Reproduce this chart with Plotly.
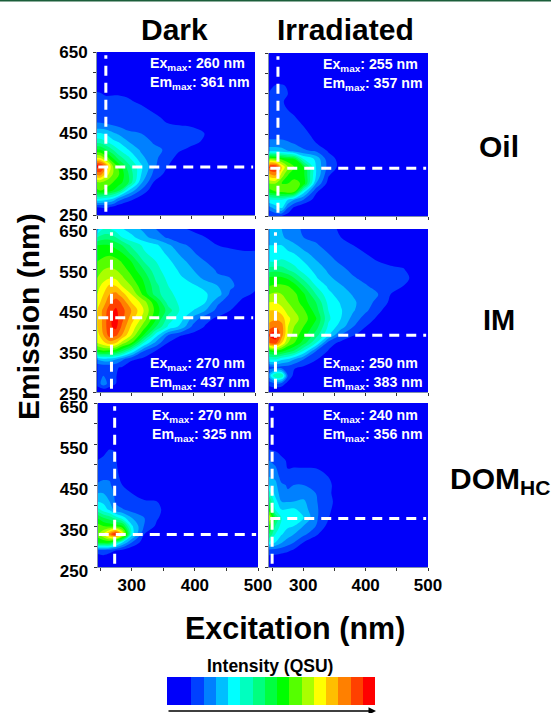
import plotly.graph_objects as go

W, H = 551, 713

EX = [245, 255, 265, 275, 285, 300, 320, 340, 360, 380, 400, 420, 440, 460, 480, 500]
EM = [650, 630, 610, 590, 570, 550, 530, 510, 490, 470, 450, 430, 410, 390, 370, 350, 330, 310, 290, 270, 250]

oil_dark = [
 [0,0,0,0,0,0,0,0,0,0,0,0,0,0,0,0],
 [0,0,0,0,0,0,0,0,0,0,0,0,0,0,0,0],
 [0,0,0,0,0,0,0,0,0,0,0,0,0,0,0,0],
 [0,0,0,0,0,0,0,0,0,0,0,0,0,0,0,0],
 [0.6,0.6,0.5,0.4,0.3,0.2,0,0,0,0,0,0,0,0,0,0],
 [1.05,1.0,0.9,0.95,0.95,0.9,0.6,0,0,0,0,0,0,0,0,0],
 [1.15,1.15,1.15,1.1,1.1,1.05,0.9,0.3,0,0,0,0,0,0,0,0],
 [1.3,1.3,1.3,1.3,1.3,1.2,1.1,0.9,0.2,0,0,0,0,0,0,0],
 [1.6,1.6,1.6,1.5,1.5,1.4,1.2,1.1,0.9,0.5,0.2,0,0,0,0,0],
 [2.2,2.2,2.1,2.0,1.8,1.6,1.4,1.2,1.05,1.0,0.95,0.4,0,0,0,0],
 [4.1,4.1,3.8,3.2,2.8,2.2,2.0,1.6,1.4,1.3,1.2,1.0,0.1,0,0,0],
 [5.5,5.5,5.0,4.3,3.9,3.0,2.4,1.9,1.6,1.4,1.2,0.9,0,0,0,0],
 [8.0,8.0,7.0,6.0,5.0,4.0,2.8,2.2,1.9,1.1,0.8,0.3,0,0,0,0],
 [11.0,11.0,9.5,8.0,6.5,5.2,3.3,2.3,1.4,0.7,0,0,0,0,0,0],
 [15.2,15.5,13.0,10.0,8.5,6.3,4.2,2.2,1.1,0.3,0,0,0,0,0,0],
 [13.0,13.5,11.5,10.0,9.0,7.0,4.0,1.7,0.7,0,0,0,0,0,0,0],
 [9.5,10.0,9.5,9.0,8.5,7.0,3.2,0.9,0,0,0,0,0,0,0,0],
 [8.5,9.0,8.7,8.0,7.0,4.0,1.8,0.3,0,0,0,0,0,0,0,0],
 [5.0,5.0,4.5,4.0,2.5,1.5,0.5,0,0,0,0,0,0,0,0,0],
 [1.0,1.1,1.2,0.9,0.4,0,0,0,0,0,0,0,0,0,0,0],
 [0,0,0,0,0,0,0,0,0,0,0,0,0,0,0,0],
]
oil_irr = [
 [0,0,0,0,0,0,0,0,0,0,0,0,0,0,0,0],
 [0,0,0,0,0,0,0,0,0,0,0,0,0,0,0,0],
 [0,0,0,0,0,0,0,0,0,0,0,0,0,0,0,0],
 [0.2,0.4,0.4,0.2,0,0,0,0,0,0,0,0,0,0,0,0],
 [0.7,1.05,1.1,0.9,0,0,0,0,0,0,0,0,0,0,0,0],
 [1.1,1.2,1.2,1.0,0.4,0,0,0,0,0,0,0,0,0,0,0],
 [1.05,1.1,1.05,0.9,0.4,0,0,0,0,0,0,0,0,0,0,0],
 [1.05,1.1,1.1,1.0,0.8,0.3,0,0,0,0,0,0,0,0,0,0],
 [1.2,1.2,1.2,1.2,1.1,0.7,0,0,0,0,0,0,0,0,0,0],
 [1.3,1.3,1.3,1.3,1.2,1.0,0.3,0,0,0,0,0,0,0,0,0],
 [1.6,1.6,1.5,1.5,1.4,1.2,0.8,0,0,0,0,0,0,0,0,0],
 [2.3,2.3,2.3,2.1,1.9,1.4,1.0,0.3,0,0,0,0,0,0,0,0],
 [3.6,3.6,3.4,3.0,2.6,2.2,1.8,0.9,0.2,0,0,0,0,0,0,0],
 [10.0,9.5,8.8,8.3,8.0,5.0,3.8,1.4,0.7,0,0,0,0,0,0,0],
 [15.2,15.4,12.0,10.0,9.0,8.0,4.0,1.6,0.7,0,0,0,0,0,0,0],
 [12.5,13.0,10.5,9.0,8.5,8.3,4.0,1.1,0.2,0,0,0,0,0,0,0],
 [10.0,10.0,9.0,9.0,9.5,8.7,3.0,0.6,0,0,0,0,0,0,0,0],
 [8.5,9.0,9.3,9.8,9.3,4.5,1.2,0,0,0,0,0,0,0,0,0],
 [5.0,5.0,5.0,4.0,3.0,2.0,0.5,0,0,0,0,0,0,0,0,0],
 [2.5,3.5,4.2,2.0,0.8,0,0,0,0,0,0,0,0,0,0,0],
 [1.0,1.1,1.0,0.5,0,0,0,0,0,0,0,0,0,0,0,0],
]
im_dark = [
 [3.5,5.0,5.0,4.5,4.1,3.5,2.8,2.0,1.5,1.1,0.9,0.7,0.6,0.5,0.5,0.5],
 [6.0,6.5,6.5,6.0,5.0,4.3,3.3,2.5,1.8,1.4,1.2,1.0,0.8,0.7,0.7,0.7],
 [8.0,8.1,8.0,7.7,7.0,5.8,4.8,4.2,3.2,2.2,1.8,1.2,1.0,0.9,0.9,0.9],
 [8.5,8.7,8.8,8.4,8.1,6.8,5.2,4.5,3.8,2.8,2.1,1.6,1.3,1.15,1.05,1.05],
 [9.0,9.3,9.5,9.5,8.9,8.0,6.0,5.0,4.2,3.4,2.5,2.0,1.6,1.4,1.2,1.1],
 [9.5,10.0,10.2,10.0,9.5,8.6,7.0,5.3,4.5,3.8,3.0,2.3,1.9,1.7,1.4,1.2],
 [10.0,10.5,10.9,10.8,10.2,9.2,7.8,5.8,4.7,4.1,3.7,2.6,2.1,2.0,1.5,1.3],
 [10.5,11.5,12.2,12.0,11.0,10.0,8.2,6.3,5.0,4.5,4.1,3.8,3.0,2.2,1.6,1.15],
 [11.0,12.0,13.0,13.3,12.5,11.0,8.7,6.5,5.2,4.7,4.4,4.1,3.5,1.8,1.2,0.9],
 [11.5,12.5,13.8,14.6,13.8,12.0,10.5,8.2,5.5,4.8,4.3,4.0,2.2,1.4,0.8,0.4],
 [12.0,13.3,14.6,15.2,14.4,13.0,11.0,8.6,6.5,4.8,4.0,3.0,1.6,1.0,0.4,0],
 [12.0,13.3,14.8,15.4,14.3,12.5,10.5,8.1,5.5,4.4,2.6,1.3,0.8,0,0,0],
 [12.0,13.3,14.8,15.3,13.8,11.8,9.5,7.0,4.8,3.7,1.7,0.9,0.1,0,0,0],
 [11.5,13.0,14.5,14.3,13.0,11.0,8.0,4.5,2.0,1.1,0.7,0,0,0,0,0],
 [11.0,11.7,12.5,12.0,10.5,9.0,5.0,2.6,0.9,0.2,0,0,0,0,0,0],
 [8.5,8.8,8.5,8.2,7.0,4.8,2.0,0.9,0,0,0,0,0,0,0,0],
 [3.0,3.5,3.5,3.0,2.2,1.2,0.7,0,0,0,0,0,0,0,0,0],
 [1.1,1.2,1.2,1.1,0.9,0.2,0,0,0,0,0,0,0,0,0,0],
 [1.3,2.0,1.6,1.1,0.3,0,0,0,0,0,0,0,0,0,0,0],
 [1.4,2.5,1.6,1.0,0.3,0,0,0,0,0,0,0,0,0,0,0],
 [0,0,0,0,0,0,0,0,0,0,0,0,0,0,0,0],
]
im_irr = [
 [3.3,3.2,3.0,2.5,2.2,1.9,1.6,1.2,0.9,0.7,0.5,0,0,0,0,0],
 [3.6,3.5,3.2,2.7,2.4,2.0,1.8,1.4,1.0,0.8,0.6,0.3,0,0,0,0],
 [4.0,4.0,4.0,3.6,3.2,2.6,2.1,1.7,1.2,1.0,0.9,0.6,0.2,0,0,0],
 [4.5,4.5,4.5,4.2,4.0,3.3,2.6,2.0,1.6,1.2,1.0,0.8,0.3,0,0,0],
 [5.0,5.0,5.2,5.0,4.6,4.0,3.1,2.4,1.8,1.4,1.1,1.0,0.9,0.8,0.2,0],
 [6.5,6.7,6.5,6.0,5.5,4.5,3.7,2.8,2.3,1.7,1.4,1.2,1.1,1.05,0.7,0],
 [8.2,8.2,8.2,7.8,7.0,5.7,4.1,3.2,2.6,2.1,1.7,1.4,1.2,1.1,0.9,0],
 [9.0,9.2,9.2,9.0,8.5,7.0,5.0,3.8,3.1,2.5,2.1,1.6,1.2,1.0,0.3,0],
 [10.0,10.2,10.0,9.7,9.3,8.2,6.0,4.3,3.5,2.9,2.4,2.0,1.0,0.6,0,0],
 [11.0,11.0,10.5,10.0,9.6,8.5,7.0,4.7,3.9,3.2,2.4,1.7,0.8,0,0,0],
 [12.0,12.0,11.5,10.5,10.0,9.2,7.5,5.0,4.1,3.1,2.2,1.2,0.5,0,0,0],
 [12.5,12.8,12.5,11.3,10.5,9.5,8.1,5.2,4.0,2.6,1.5,0.8,0,0,0,0],
 [13.5,14.0,13.5,11.0,10.0,9.0,7.5,4.8,3.5,2.0,1.0,0.3,0,0,0,0],
 [15.2,15.6,13.5,10.8,9.5,8.5,6.5,4.1,2.0,1.1,0.5,0,0,0,0,0],
 [14.0,14.5,12.0,10.0,9.0,7.5,5.0,1.5,0.7,0.2,0,0,0,0,0,0],
 [8.0,8.5,8.2,7.5,6.8,4.8,2.0,0.9,0,0,0,0,0,0,0,0],
 [5.0,5.0,4.2,3.8,3.0,2.0,1.1,0.2,0,0,0,0,0,0,0,0],
 [1.6,1.8,1.6,1.5,1.1,0.8,0.1,0,0,0,0,0,0,0,0,0],
 [3.5,6.0,6.0,1.8,0.7,0,0,0,0,0,0,0,0,0,0,0],
 [1.4,1.8,1.5,0.6,0,0,0,0,0,0,0,0,0,0,0,0],
 [0,0,0,0,0,0,0,0,0,0,0,0,0,0,0,0],
]
dom_dark = [
 [0,0,0,0,0,0,0,0,0,0,0,0,0,0,0,0],
 [0,0,0,0,0,0,0,0,0,0,0,0,0,0,0,0],
 [0,0,0,0,0,0,0,0,0,0,0,0,0,0,0,0],
 [0,0,0,0,0,0,0,0,0,0,0,0,0,0,0,0],
 [0,0,0,0.1,0,0,0,0,0,0,0,0,0,0,0,0],
 [0.3,0.5,0.8,0.7,0,0,0,0,0,0,0,0,0,0,0,0],
 [0.7,0.9,1.1,1.0,0,0,0,0,0,0,0,0,0,0,0,0],
 [1.0,1.1,1.2,1.1,0.1,0,0,0,0,0,0,0,0,0,0,0],
 [1.1,1.3,1.4,1.2,0.4,0,0,0,0,0,0,0,0,0,0,0],
 [1.3,1.8,1.8,1.1,0.9,0.2,0,0,0,0,0,0,0,0,0,0],
 [2.2,2.3,2.2,1.3,1.0,0.6,0.1,0,0,0,0,0,0,0,0,0],
 [3.0,3.0,2.8,1.6,1.2,1.0,0.5,0,0,0,0,0,0,0,0,0],
 [4.0,3.8,3.0,1.8,1.5,1.2,1.1,1.0,0.3,0,0,0,0,0,0,0],
 [5.5,4.5,3.8,2.4,2.1,1.6,1.3,1.2,0.6,0,0,0,0,0,0,0],
 [8.0,7.0,6.5,5.5,4.5,3.0,2.0,1.1,0.4,0,0,0,0,0,0,0],
 [9.5,9.0,8.7,8.6,8.2,4.2,1.9,0.8,0,0,0,0,0,0,0,0],
 [9.5,11.0,13.5,15.5,12.0,4.5,1.0,0.1,0,0,0,0,0,0,0,0],
 [8.0,8.2,8.0,6.0,4.1,2.0,0.4,0,0,0,0,0,0,0,0,0],
 [1.3,1.5,1.4,1.0,0.6,0.1,0,0,0,0,0,0,0,0,0,0],
 [0.5,0.6,0.2,0,0,0,0,0,0,0,0,0,0,0,0,0],
 [0,0,0,0,0,0,0,0,0,0,0,0,0,0,0,0],
]
dom_irr = [
 [0,0,0,0,0,0,0,0,0,0,0,0,0,0,0,0],
 [0,0,0,0,0,0,0,0,0,0,0,0,0,0,0,0],
 [0,0,0,0,0,0,0,0,0,0,0,0,0,0,0,0],
 [0,0,0,0,0,0,0,0,0,0,0,0,0,0,0,0],
 [0.3,0.1,0,0,0,0,0,0,0,0,0,0,0,0,0,0],
 [0.8,0.3,0,0,0,0,0,0,0,0,0,0,0,0,0,0],
 [1.1,1.1,0.8,0.2,0,0,0,0,0,0,0,0,0,0,0,0],
 [2.0,1.6,1.2,0.9,0.4,0,0,0,0,0,0,0,0,0,0,0],
 [2.4,2.2,1.3,1.0,1.1,1.1,1.05,0.6,0,0,0,0,0,0,0,0],
 [3.0,2.8,1.5,1.3,1.2,1.2,1.15,1.0,0.3,0,0,0,0,0,0,0],
 [4.0,3.3,2.2,1.9,2.0,2.0,1.5,1.2,0.5,0,0,0,0,0,0,0],
 [5.5,3.6,2.5,2.1,2.2,2.4,2.0,1.2,0.4,0,0,0,0,0,0,0],
 [7.0,4.5,3.0,2.9,3.0,3.2,2.1,1.3,0.5,0,0,0,0,0,0,0],
 [8.5,5.0,4.0,4.1,4.2,3.5,2.2,1.2,0.4,0,0,0,0,0,0,0],
 [11.0,7.0,5.0,4.4,4.4,4.1,2.2,1.05,0.3,0,0,0,0,0,0,0],
 [9.0,6.0,4.6,4.2,4.0,3.0,2.0,0.7,0,0,0,0,0,0,0,0],
 [7.0,5.0,4.1,3.5,3.0,2.3,1.2,0.2,0,0,0,0,0,0,0,0],
 [5.0,4.0,3.1,2.5,2.0,1.0,0.3,0,0,0,0,0,0,0,0,0],
 [1.5,1.5,1.4,1.2,0.8,0.1,0,0,0,0,0,0,0,0,0,0],
 [0.6,0.5,0.3,0,0,0,0,0,0,0,0,0,0,0,0,0],
 [0,0,0,0,0,0,0,0,0,0,0,0,0,0,0,0],
]

LEVEL_COLORS = ["#0000FA", "#0040FF", "#0080FF", "#00BFFF", "#00FFFF", "#00FFBF", "#00FF80", "#00FF40",
                "#00FF00", "#55FF00", "#AAFF00", "#FFFF00", "#FFBF00", "#FF8000", "#FF4000", "#FF0000"]
BAR_LEVELS = [0, 0, 1, 2, 3, 4, 5, 6, 7, 8, 9, 10, 11, 12, 13, 14, 15]

ex_peak_text = [260, 255, 270, 250, 270, 240]
em_peak_text = [361, 357, 437, 383, 325, 356]
ex_line = [264, 259, 268, 255, 273, 250]
em_line = [368, 367, 432, 389, 329, 368]
Y_TICKS = [250, 300, 350, 400, 450, 500, 550, 600, 650]
Y_LABELS = ["250", "", "350", "", "450", "", "550", "", "650"]
X_TICKS = [250, 300, 350, 400, 450, 500]
X_LABELS = ["", "300", "", "400", "", "500"]

panels = [
    (oil_dark, (97, 255, 52, 215), 250, (148, 64, 83), 0),
    (oil_irr, (269, 428, 53, 216), 244.6, (321, 65, 84), 0),
    (im_dark, (97, 255, 229, 392), 244.6, (148, 364, 383), 2),
    (im_irr, (269, 428, 229, 392), 244.6, (321, 364, 383), 0),
    (dom_dark, (97.5, 258, 403, 567), 245.8, (150, 416, 435), 4),
    (dom_irr, (269, 428, 403, 567), 245, (321, 416, 435), 0),
]

FONT = "Liberation Sans"
cs = []
n = len(LEVEL_COLORS)
for i, c in enumerate(LEVEL_COLORS):
    cs += [[i / n, c], [(i + 1) / n, c]]

def px(x):
    return x / W

def py(y):
    return 1 - y / H

fig = go.Figure()
layout = {}
annotations = []

def text(x, y, s, size, color="black", xanchor="center", angle=0):
    annotations.append(dict(x=px(x), y=py(y), xref="paper", yref="paper", text=s, showarrow=False,
                            xanchor=xanchor, yanchor="middle", textangle=angle,
                            font=dict(family=FONT, size=size, color=color)))

for i, (z, (x0, x1, y0, y1), xmin, (tx, ty1, ty2), label_shift) in enumerate(panels):
    k = i + 1
    xa, ya = ("x%d" % k, "y%d" % k)
    fig.add_trace(go.Contour(x=EX, y=EM[::-1], z=z[::-1], xaxis=xa, yaxis=ya, showscale=False,
                             autocontour=False, zmin=0, zmax=16, colorscale=cs,
                             contours=dict(start=1, end=15, size=1, coloring="fill", showlines=False),
                             line=dict(width=0, smoothing=1), hoverinfo="skip"))
    dash = "10px,7px"
    fig.add_trace(go.Scatter(x=[ex_line[i], ex_line[i]], y=[258, 642], mode="lines", xaxis=xa, yaxis=ya,
                             line=dict(color="white", width=3, dash=dash), showlegend=False, hoverinfo="skip"))
    fig.add_trace(go.Scatter(x=[xmin + 2, 497], y=[em_line[i], em_line[i]], mode="lines", xaxis=xa, yaxis=ya,
                             line=dict(color="white", width=3, dash=dash), showlegend=False, hoverinfo="skip"))
    layout["xaxis%d" % k] = dict(domain=[px(x0), px(x1)], range=[xmin, 500], anchor=ya, tickmode="array",
                                 tickvals=X_TICKS, ticktext=X_LABELS, showticklabels=i >= 4, ticks="outside",
                                 ticklen=3, tickwidth=1, tickcolor="#333333", showgrid=False, zeroline=False,
                                 showline=True, linecolor="#8090b0", linewidth=1,
                                 tickfont=dict(family=FONT, size=17, color="black", weight="bold"))
    layout["yaxis%d" % k] = dict(domain=[py(y1), py(y0)], range=[250, 650], anchor=xa, tickmode="array",
                                 tickvals=Y_TICKS, ticktext=Y_LABELS, showticklabels=i % 2 == 0, ticks="outside",
                                 ticklen=3, tickwidth=1, tickcolor="#333333", showgrid=False, zeroline=False,
                                 showline=True, linecolor="#8090b0", linewidth=1,
                                 ticklabelshift=label_shift, ticklabelstandoff=2,
                                 tickfont=dict(family=FONT, size=17, color="black", weight="bold"))
    text(tx, ty1, "<b>Ex<sub>max</sub>: %d nm</b>" % ex_peak_text[i], 14.2, "white", "left")
    text(tx, ty2, "<b>Em<sub>max</sub>: %d nm</b>" % em_peak_text[i], 14.2, "white", "left")

# intensity scale strip
fig.add_trace(go.Heatmap(z=[BAR_LEVELS], x0=0, dx=1, y0=0, dy=1, xaxis="x7", yaxis="y7", zmin=0, zmax=16,
                         colorscale=cs, showscale=False, hoverinfo="skip"))
layout["xaxis7"] = dict(domain=[px(167), px(375)], range=[-0.5, 16.5], anchor="y7", visible=False)
layout["yaxis7"] = dict(domain=[py(705), py(677)], range=[-0.5, 0.5], anchor="x7", visible=False)

text(174, 30, "<b>Dark</b>", 30)
text(346, 30, "<b>Irradiated</b>", 30)
text(28, 317, "<b>Emission (nm)</b>", 30, angle=-90)
text(295, 628, "<b>Excitation (nm)</b>", 30.5)
text(499, 146, "<b>Oil</b>", 30)
text(499, 320, "<b>IM</b>", 29)
text(500, 480, "<b>DOM<sub>HC</sub></b>", 30)
text(270, 666, "<b>Intensity (QSU)</b>", 17.5)

annotations.append(dict(x=px(376), y=py(711), ax=-209, ay=0, xref="paper", yref="paper", axref="pixel",
                        ayref="pixel", text="", showarrow=True, arrowhead=2, arrowsize=1, arrowwidth=1.5,
                        arrowcolor="black"))

top_rule = dict(type="rect", xref="paper", yref="paper", x0=0, x1=1, y0=py(1.5), y1=1,
                fillcolor="#1B5E3A", line=dict(width=0))

fig.update_layout(width=W, height=H, margin=dict(l=0, r=0, t=0, b=0, autoexpand=False), paper_bgcolor="white",
                  plot_bgcolor="#0000FA", showlegend=False, annotations=annotations, shapes=[top_rule],
                  font=dict(family=FONT, color="black"), **layout)

fig.write_html("out.html", config={"displayModeBar": False},
               post_script="document.body.style.margin='0';document.documentElement.style.overflow='hidden';")
